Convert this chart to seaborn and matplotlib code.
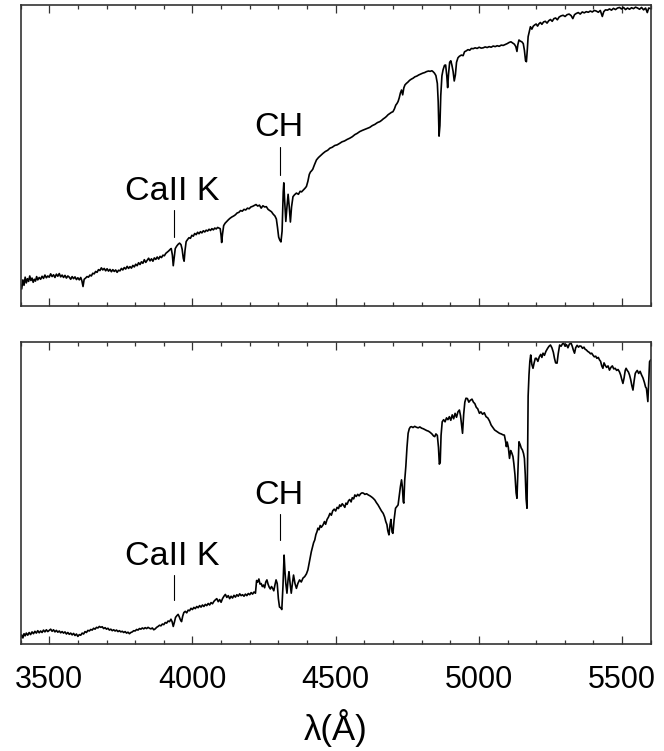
import matplotlib
matplotlib.use("Agg")
import matplotlib.pyplot as plt
import numpy as np
import pandas as pd
import seaborn as sns
from matplotlib.ticker import MultipleLocator

# ---------------- data ----------------
top_wl = [3400, 3404, 3408, 3412, 3416, 3420, 3424, 3428, 3432, 3436, 3440, 3444, 3448, 3452, 3456, 3460, 3465, 3470, 3475, 3480,
          3485, 3490, 3495, 3500, 3505, 3510, 3515, 3520, 3525, 3530, 3535, 3540, 3545, 3550, 3555, 3560, 3565, 3570, 3575, 3580,
          3585, 3590, 3595, 3600, 3605, 3610, 3614, 3618, 3622, 3627, 3632, 3637, 3642, 3647, 3652, 3657, 3662, 3667, 3672, 3677,
          3682, 3687, 3692, 3697, 3702, 3707, 3712, 3717, 3722, 3727, 3732, 3737, 3742, 3747, 3752, 3757, 3762, 3767, 3772, 3777,
          3782, 3787, 3792, 3797, 3802, 3807, 3812, 3817, 3822, 3827, 3832, 3837, 3842, 3847, 3852, 3857, 3862, 3867, 3872, 3877,
          3882, 3887, 3892, 3897, 3902, 3907, 3912, 3917, 3922, 3926, 3930, 3933, 3936, 3940, 3945, 3950, 3955, 3960, 3964, 3968,
          3971, 3974, 3978, 3983, 3988, 3993, 3998, 4003, 4008, 4013, 4018, 4023, 4028, 4033, 4038, 4043, 4048, 4053, 4058, 4063,
          4068, 4073, 4078, 4083, 4088, 4093, 4097, 4100, 4102, 4105, 4109, 4114, 4120, 4126, 4132, 4138, 4144, 4150, 4156, 4162,
          4168, 4174, 4180, 4186, 4192, 4198, 4204, 4210, 4216, 4222, 4228, 4234, 4240, 4246, 4252, 4258, 4264, 4270, 4276, 4282,
          4288, 4293, 4297, 4301, 4305, 4309, 4313, 4317, 4319, 4322, 4326, 4330, 4334, 4338, 4342, 4346, 4351, 4356, 4363, 4370,
          4376, 4381, 4387, 4393, 4398, 4403, 4408, 4412, 4416, 4420, 4426, 4433, 4440, 4447, 4456, 4464, 4472, 4480, 4488, 4497,
          4505, 4514, 4522, 4531, 4540, 4549, 4558, 4567, 4575, 4584, 4593, 4601, 4610, 4619, 4628, 4637, 4646, 4654, 4660, 4666,
          4672, 4677, 4683, 4689, 4695, 4700, 4705, 4710, 4714, 4718, 4722, 4726, 4730, 4734, 4738, 4742, 4747, 4752, 4758, 4764,
          4770, 4777, 4783, 4790, 4797, 4804, 4811, 4817, 4824, 4830, 4836, 4840, 4845, 4850, 4855, 4858, 4861, 4864, 4867, 4871,
          4875, 4880, 4884, 4888, 4891, 4894, 4898, 4902, 4906, 4910, 4914, 4918, 4922, 4927, 4932, 4939, 4945, 4950, 4956, 4962,
          4968, 4974, 4980, 4987, 4994, 5001, 5008, 5015, 5022, 5029, 5036, 5043, 5050, 5057, 5064, 5071, 5078, 5085, 5092, 5099,
          5106, 5112, 5118, 5124, 5129, 5133, 5136, 5140, 5145, 5150, 5155, 5159, 5163, 5166, 5169, 5172, 5176, 5180, 5185, 5190,
          5195, 5200, 5205, 5210, 5215, 5220, 5226, 5232, 5238, 5244, 5250, 5256, 5262, 5268, 5274, 5280, 5287, 5294, 5301, 5308,
          5315, 5322, 5328, 5334, 5340, 5347, 5354, 5361, 5368, 5375, 5382, 5389, 5396, 5403, 5410, 5417, 5424, 5431, 5436, 5442,
          5449, 5456, 5463, 5470, 5477, 5484, 5491, 5498, 5505, 5512, 5519, 5526, 5533, 5540, 5547, 5554, 5561, 5568, 5575, 5582,
          5588, 5593, 5600]
top_flux = [.072, .058, .088, .070, .097, .078, .092, .083, .101, .086, .094, .080, .090, .084, .099, .088, .096, .090, .100, .093,
            .104, .095, .101, .097, .108, .099, .105, .096, .107, .100, .109, .098, .104, .096, .103, .094, .101, .097, .090, .099,
            .092, .098, .089, .095, .088, .096, .085, .066, .090, .094, .099, .097, .104, .101, .110, .108, .116, .113, .122, .119,
            .128, .121, .126, .118, .125, .117, .123, .115, .122, .116, .121, .113, .120, .118, .126, .121, .129, .124, .133, .126,
            .132, .127, .136, .131, .140, .135, .145, .139, .148, .143, .155, .146, .153, .160, .151, .158, .150, .161, .156, .164,
            .157, .166, .162, .170, .168, .176, .180, .184, .189, .192, .170, .135, .160, .192, .200, .206, .210, .205, .190, .160,
            .150, .185, .215, .222, .228, .226, .236, .233, .242, .238, .246, .241, .248, .244, .251, .247, .253, .250, .256, .252,
            .258, .254, .260, .257, .262, .260, .258, .235, .212, .240, .268, .276, .282, .288, .293, .297, .300, .304, .310, .312,
            .318, .316, .322, .320, .326, .324, .330, .332, .335, .338, .333, .336, .326, .334, .330, .331, .322, .318, .314, .306,
            .300, .290, .262, .230, .220, .214, .250, .380, .410, .350, .282, .330, .372, .330, .280, .330, .364, .370, .376, .372,
            .382, .380, .386, .392, .398, .415, .438, .446, .450, .455, .470, .486, .494, .500, .508, .514, .518, .525, .528, .534,
            .536, .541, .546, .549, .554, .558, .563, .570, .574, .580, .584, .587, .590, .594, .600, .604, .610, .613, .617, .622,
            .626, .630, .636, .640, .644, .646, .655, .668, .673, .680, .692, .708, .718, .702, .725, .735, .740, .744, .750, .754,
            .757, .762, .764, .768, .771, .774, .776, .779, .781, .780, .782, .779, .774, .766, .740, .680, .565, .600, .700, .765,
            .785, .800, .801, .765, .726, .770, .810, .815, .800, .780, .748, .768, .810, .825, .830, .834, .832, .845, .848, .852,
            .850, .856, .855, .858, .856, .860, .857, .858, .861, .859, .862, .860, .864, .862, .865, .863, .867, .866, .869, .872,
            .876, .878, .874, .870, .862, .846, .868, .884, .880, .878, .872, .850, .815, .812, .850, .895, .912, .928, .920, .930,
            .934, .937, .930, .938, .942, .936, .944, .946, .940, .948, .952, .946, .955, .957, .951, .960, .964, .966, .962, .968,
            .970, .965, .955, .968, .972, .975, .970, .977, .974, .978, .976, .980, .977, .982, .980, .976, .982, .962, .978, .984,
            .983, .987, .983, .989, .985, .990, .992, .987, .992, .985, .990, .986, .991, .988, .993, .990, .986, .992, .984, .990,
            .975, .990, .988]

bot_wl = [3400, 3404, 3408, 3412, 3416, 3420, 3425, 3430, 3435, 3440, 3445, 3450, 3455, 3460, 3465, 3470, 3475, 3480, 3485, 3490,
          3495, 3500, 3505, 3510, 3515, 3520, 3525, 3530, 3535, 3540, 3545, 3550, 3555, 3560, 3565, 3570, 3575, 3580, 3585, 3590,
          3595, 3600, 3605, 3610, 3615, 3620, 3625, 3630, 3635, 3640, 3645, 3650, 3655, 3660, 3665, 3670, 3675, 3680, 3685, 3690,
          3695, 3700, 3705, 3710, 3715, 3720, 3725, 3730, 3735, 3740, 3745, 3750, 3755, 3760, 3765, 3770, 3775, 3780, 3785, 3790,
          3795, 3800, 3805, 3810, 3815, 3820, 3825, 3830, 3835, 3840, 3845, 3850, 3855, 3860, 3865, 3870, 3875, 3880, 3885, 3890,
          3895, 3900, 3905, 3910, 3915, 3920, 3925, 3929, 3933, 3937, 3941, 3946, 3950, 3954, 3958, 3962, 3966, 3970, 3975, 3980,
          3985, 3990, 3995, 4000, 4005, 4010, 4015, 4020, 4025, 4030, 4035, 4040, 4045, 4050, 4055, 4060, 4065, 4070, 4075, 4080,
          4085, 4090, 4095, 4100, 4105, 4110, 4115, 4120, 4125, 4130, 4135, 4140, 4145, 4150, 4155, 4160, 4165, 4170, 4175, 4180,
          4185, 4190, 4195, 4200, 4205, 4210, 4215, 4220, 4224, 4228, 4232, 4236, 4240, 4244, 4248, 4252, 4256, 4260, 4264, 4268,
          4272, 4276, 4280, 4284, 4288, 4292, 4296, 4300, 4304, 4308, 4312, 4316, 4320, 4323, 4326, 4330, 4334, 4337, 4341, 4345,
          4349, 4353, 4358, 4363, 4368, 4374, 4380, 4386, 4392, 4398, 4403, 4408, 4412, 4415, 4419, 4423, 4427, 4431, 4435, 4438,
          4442, 4446, 4450, 4456, 4461, 4465, 4470, 4475, 4480, 4485, 4490, 4495, 4500, 4505, 4510, 4514, 4518, 4523, 4528, 4532,
          4536, 4540, 4545, 4549, 4554, 4558, 4563, 4567, 4572, 4577, 4582, 4587, 4592, 4597, 4602, 4608, 4614, 4620, 4626, 4631,
          4637, 4642, 4648, 4654, 4660, 4666, 4671, 4675, 4679, 4682, 4686, 4690, 4693, 4697, 4700, 4704, 4709, 4714, 4718, 4722,
          4726, 4730, 4733, 4736, 4738, 4741, 4745, 4749, 4753, 4757, 4761, 4765, 4770, 4776, 4782, 4788, 4794, 4800, 4806, 4812,
          4818, 4824, 4830, 4836, 4842, 4846, 4850, 4855, 4859, 4862, 4865, 4868, 4872, 4877, 4882, 4887, 4892, 4897, 4902, 4907,
          4912, 4917, 4922, 4927, 4932, 4936, 4940, 4943, 4947, 4951, 4955, 4960, 4965, 4970, 4976, 4981, 4986, 4991, 4996, 5002,
          5007, 5013, 5019, 5025, 5031, 5037, 5043, 5049, 5055, 5061, 5067, 5072, 5078, 5084, 5089, 5093, 5096, 5099, 5103, 5107,
          5111, 5115, 5119, 5122, 5126, 5130, 5133, 5136, 5140, 5144, 5148, 5152, 5156, 5159, 5162, 5165, 5168, 5170, 5172, 5175,
          5178, 5181, 5185, 5189, 5193, 5197, 5201, 5206, 5211, 5216, 5220, 5224, 5229, 5234, 5240, 5245, 5250, 5255, 5260, 5264,
          5268, 5273, 5277, 5282, 5287, 5292, 5296, 5301, 5306, 5311, 5316, 5322, 5326, 5330, 5334, 5338, 5343, 5348, 5352, 5357,
          5362, 5367, 5371, 5375, 5380, 5385, 5390, 5394, 5398, 5403, 5408, 5412, 5417, 5421, 5425, 5429, 5433, 5437, 5441, 5446,
          5451, 5456, 5461, 5466, 5471, 5476, 5481, 5486, 5491, 5495, 5499, 5503, 5507, 5511, 5514, 5518, 5522, 5526, 5530, 5534,
          5538, 5542, 5546, 5549, 5553, 5558, 5563, 5568, 5573, 5578, 5582, 5585, 5588, 5590, 5593, 5596, 5600]
bot_flux = [.022, .030, .020, .034, .027, .036, .029, .038, .031, .040, .034, .042, .036, .044, .037, .043, .038, .046, .040, .047,
            .041, .045, .049, .042, .047, .040, .045, .039, .043, .037, .041, .036, .040, .033, .038, .032, .036, .030, .035, .028,
            .033, .025, .031, .029, .036, .033, .041, .038, .045, .043, .048, .046, .052, .049, .055, .053, .058, .055, .057, .051,
            .054, .049, .052, .046, .049, .044, .047, .043, .046, .041, .044, .040, .042, .038, .041, .036, .039, .034, .038, .040,
            .044, .043, .048, .046, .051, .049, .053, .050, .054, .051, .055, .052, .050, .053, .047, .050, .055, .058, .062, .060,
            .066, .064, .071, .069, .076, .074, .082, .074, .058, .072, .088, .094, .098, .090, .080, .074, .092, .104, .108, .103,
            .112, .110, .118, .114, .121, .117, .124, .120, .127, .122, .129, .124, .131, .127, .134, .129, .137, .133, .141, .146,
            .150, .140, .147, .138, .150, .158, .164, .154, .160, .150, .158, .152, .161, .155, .163, .158, .166, .160, .163, .158,
            .165, .160, .167, .163, .170, .165, .172, .168, .210, .205, .215, .198, .200, .190, .195, .186, .205, .212, .198, .188,
            .182, .190, .184, .176, .195, .212, .200, .150, .122, .120, .114, .190, .294, .240, .200, .168, .215, .239, .200, .168,
            .200, .228, .200, .184, .200, .212, .205, .218, .223, .232, .245, .270, .290, .305, .320, .335, .344, .362, .372, .383,
            .378, .392, .386, .394, .405, .396, .412, .420, .432, .426, .441, .446, .440, .452, .448, .460, .455, .464, .458, .452,
            .466, .462, .474, .478, .470, .484, .480, .493, .488, .495, .490, .497, .500, .499, .495, .497, .493, .490, .486, .482,
            .476, .468, .460, .450, .440, .432, .420, .405, .395, .375, .361, .395, .412, .370, .366, .410, .449, .455, .460, .490,
            .520, .543, .520, .470, .466, .540, .587, .650, .697, .712, .718, .719, .716, .720, .717, .715, .718, .714, .712, .709,
            .706, .704, .700, .695, .688, .686, .695, .690, .650, .595, .600, .690, .735, .742, .735, .748, .742, .752, .740, .758,
            .745, .763, .750, .768, .774, .755, .720, .697, .760, .800, .813, .812, .800, .806, .810, .800, .795, .783, .778, .763,
            .768, .760, .765, .752, .748, .738, .724, .716, .708, .704, .700, .697, .695, .692, .691, .672, .653, .668, .650, .614,
            .640, .632, .620, .598, .560, .500, .482, .560, .669, .660, .648, .642, .630, .614, .560, .480, .449, .600, .820, .890,
            .935, .956, .925, .912, .930, .945, .945, .935, .950, .958, .948, .962, .955, .968, .978, .985, .989, .980, .965, .945,
            .930, .929, .960, .989, .985, .993, .995, .985, .990, .980, .992, .995, .985, .972, .962, .980, .988, .982, .986, .985,
            .978, .982, .975, .973, .968, .965, .960, .962, .956, .950, .952, .945, .948, .940, .935, .920, .912, .930, .922, .915,
            .920, .906, .915, .920, .910, .912, .905, .908, .900, .890, .875, .862, .880, .905, .912, .905, .900, .890, .875, .855,
            .840, .870, .895, .900, .905, .895, .902, .890, .880, .865, .850, .846, .820, .802, .870, .934, .940]

line_labels = ["CaII K", "CH"]
line_wl = [3934, 4306]

# ---------------- styling ----------------
sns.set_style("ticks")
plt.rcParams["font.family"] = ["Liberation Sans", "DejaVu Sans"]
plt.rcParams["text.color"] = "black"
plt.rcParams["axes.labelcolor"] = "black"
plt.rcParams["xtick.color"] = "black"

fig = plt.figure(figsize=(6.64, 7.51), dpi=100)
ax_top = fig.add_axes([0.031, 0.592, 0.949, 0.4013])
ax_bot = fig.add_axes([0.031, 0.1425, 0.949, 0.4025])

panels = [
    (ax_top, top_wl, top_flux, [(0.23, 0.32), (0.436, 0.53)]),
    (ax_bot, bot_wl, bot_flux, [(0.146, 0.228), (0.344, 0.429)]),
]

for ax, wl, fl, marks in panels:
    df = pd.DataFrame({"wl": wl, "flux": fl})
    sns.lineplot(data=df, x="wl", y="flux", ax=ax, color="black",
                 linewidth=1.2, estimator=None)
    ax.set_xlim(3400, 5600)
    ax.set_ylim(0, 1)
    ax.xaxis.set_major_locator(MultipleLocator(500))
    ax.xaxis.set_minor_locator(MultipleLocator(100))
    ax.tick_params(axis="x", which="both", direction="in", top=True, bottom=True,
                   color="#333333", width=0.9)
    ax.tick_params(axis="x", which="major", length=6)
    ax.tick_params(axis="x", which="minor", length=2.6)
    ax.set_yticks([])
    ax.set_ylabel("")
    ax.set_xlabel("")
    for sp in ax.spines.values():
        sp.set_color("#333333")
        sp.set_linewidth(1.2)
    for lab, lw_, (lo, hi) in zip(line_labels, line_wl, marks):
        ax.plot([lw_, lw_], [lo, hi], color="black", linewidth=0.8)
        ax.text(lw_ - 6, hi + 0.062, lab, ha="center", va="center",
                fontsize=24.5, color="black")

ax_top.tick_params(axis="x", labelbottom=False)
ax_bot.tick_params(axis="x", labelsize=22, pad=15)
ax_bot.set_xlabel("λ(Å)", fontsize=25, labelpad=10)

fig.savefig("out.png", dpi=100)
